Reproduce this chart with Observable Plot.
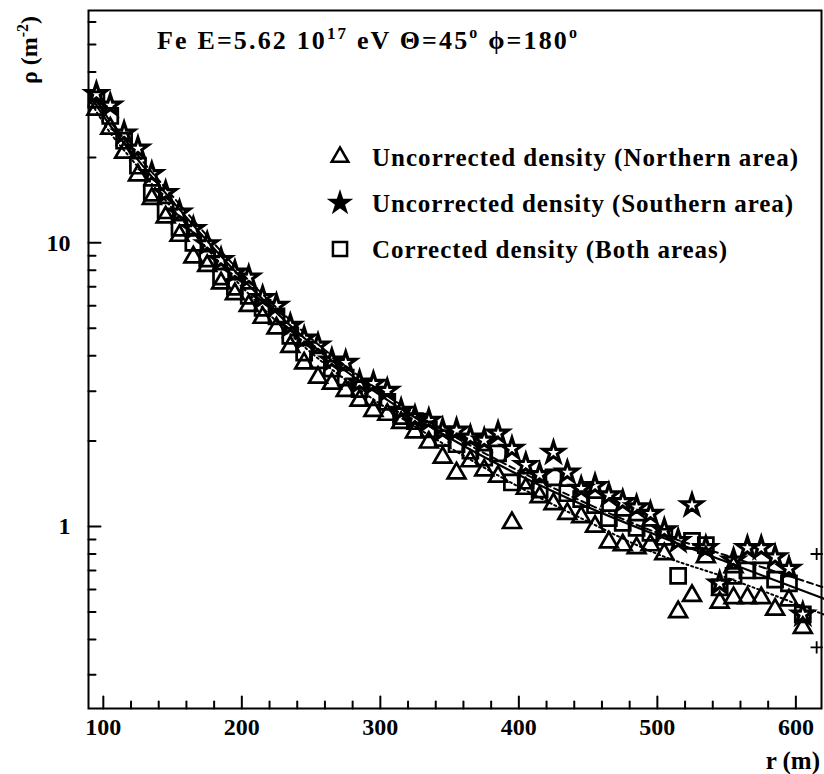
<!DOCTYPE html>
<html><head><meta charset="utf-8">
<script src="https://cdn.jsdelivr.net/npm/d3@7"></script>
<script src="https://cdn.jsdelivr.net/npm/@observablehq/plot@0.6"></script>
<style>html,body{margin:0;padding:0;background:#fff}</style>
</head><body><div id="chart"></div>
<script>
// ---- data ----
const titleMain = "Fe E=5.62 10";
const titleExp = "17";
const titleRest = " eV \u0398=45";
const titlePhi = " \u03D5=180";
const xLabel = "r (m)";
const yLabel = "\u03C1 (m";
const yLabelExp = "-2";
const legendLabels = ["Uncorrected density (Northern area)", "Uncorrected density (Southern area)", "Corrected density (Both areas)"];

const xDomain = [89.3, 618.5];
const yDomain = [0.2283, 65.9];
const xTickLabels = [100, 200, 300, 400, 500, 600];
const xMinorTicks = [120, 140, 160, 180, 220, 240, 260, 280, 320, 340, 360, 380, 420, 440, 460, 480, 520, 540, 560, 580];
const yTickLabels = [1, 10];
const yMinorTicks = [0.3, 0.4, 0.5, 0.6, 0.7, 0.8, 0.9, 2, 3, 4, 5, 6, 7, 8, 9, 20, 30, 40, 50, 60];

// Uncorrected density, Northern area (triangles)
const northR = [95,105,115,125,135,145,155,165,175,185,195,205,215,225,235,245,255,265,275,285,295,305,315,325,335,345,355,365,375,385,395,405,415,425,435,445,455,465,475,485,495,505,515,525,535,545,555,555,565,575,585,595,605];
const northRho = [29.5,25.3,20.8,17.3,14.3,12.3,10.6,8.9,8.3,7.2,6.6,6.0,5.45,5.0,4.3,3.76,3.35,3.19,3.01,2.78,2.56,2.48,2.32,2.15,1.98,1.75,1.54,1.70,1.58,1.50,1.03,1.36,1.27,1.20,1.11,1.08,1.00,0.88,0.86,0.84,0.86,0.80,0.50,0.57,0.78,0.54,0.72,0.56,0.56,0.56,0.51,0.55,0.44];

// Uncorrected density, Southern area (stars)
const southR = [95,105,115,125,135,145,155,165,175,185,195,205,215,225,235,245,255,265,275,285,295,305,315,325,335,345,355,365,375,385,395,405,415,425,435,445,455,465,475,485,495,505,515,525,535,545,555,565,575,585,595,605];
const southRho = [33.5,30.5,24.3,21.5,17.5,15.0,12.8,11.2,9.9,8.7,7.86,7.55,6.4,6.0,5.1,4.6,4.35,3.85,3.78,3.22,3.19,3.01,2.56,2.42,2.36,2.18,2.18,2.06,2.01,2.13,1.88,1.65,1.52,1.82,1.55,1.36,1.39,1.29,1.22,1.17,1.11,0.97,0.89,1.19,0.84,0.63,0.76,0.84,0.84,0.78,0.71,0.49];

// Corrected density, both areas (squares)
const bothR = [95,105,115,125,135,145,155,165,175,185,195,205,215,225,235,245,255,265,275,285,295,305,315,325,335,345,355,365,375,385,395,405,415,425,435,445,455,465,475,485,495,505,515,525,535,545,555,565,575,585,595,605];
const bothRho = [32,28,22.9,18.7,15.0,13.0,11.3,10.0,8.8,7.6,7.0,6.5,5.9,5.5,4.7,4.1,3.85,3.6,3.35,3.05,2.85,2.75,2.45,2.35,2.2,2.05,1.95,1.85,1.75,1.81,1.43,1.45,1.35,1.49,1.31,1.25,1.19,1.07,1.03,0.99,0.95,0.92,0.67,0.89,0.86,0.61,0.67,0.70,0.70,0.65,0.63,0.49];

// points at the right edge drawn as crosses
const edgeR = [615, 615];
const edgeRho = [0.80, 0.375];

// fitted lateral distribution functions
const fitR = [90,100,125,150,200,250,300,350,400,450,500,550,620];
const fitBoth = [33.5,28,19.6,14.0,7.5,4.4,2.9,2.05,1.52,1.17,0.93,0.75,0.557];
const fitSouth = [34.5,29,20.3,14.6,7.8,4.6,3.0,2.12,1.57,1.20,0.95,0.79,0.61];
const fitNorth = [32,26.5,18.5,13.2,7.0,4.1,2.7,1.9,1.38,1.04,0.80,0.66,0.49];

// ---- build ----
const FONT = "'Liberation Serif', 'Times New Roman', serif";
const rows = (R, V) => R.map((r, i) => ({r, v: V[i]}));
const north = rows(northR, northRho);
const south = rows(southR, southRho);
const both = rows(bothR, bothRho);
const edge = rows(edgeR, edgeRho);
const fitC = rows(fitR, fitBoth), fitS = rows(fitR, fitSouth), fitN = rows(fitR, fitNorth);

const tickShape = {draw(ctx, l) { ctx.moveTo(0, 0); ctx.lineTo(0, -l); }};
const mk = {fill: "none", stroke: "black", strokeWidth: 2.7};

const chart = Plot.plot({
  width: 824, height: 774,
  marginLeft: 88, marginRight: 3, marginTop: 10, marginBottom: 66,
  style: {fontFamily: FONT, fontSize: "24px", fontWeight: "bold", color: "black", background: "white", overflow: "visible"},
  x: {domain: xDomain},
  y: {type: "log", domain: yDomain},
  marks: [
    Plot.line(fitN, {x: "r", y: "v", stroke: "black", strokeWidth: 2, strokeDasharray: "2,3", curve: "monotone-x"}),
    Plot.line(fitS, {x: "r", y: "v", stroke: "black", strokeWidth: 2, strokeDasharray: "6,4", curve: "monotone-x"}),
    Plot.line(fitC, {x: "r", y: "v", stroke: "black", strokeWidth: 2.2, curve: "monotone-x"}),
    Plot.dot(both, {x: "r", y: "v", symbol: "square", r: 8.5, ...mk}),
    Plot.dot(south, {x: "r", y: "v", symbol: "star", r: 6.4, ...mk, strokeWidth: 3.2}),
    Plot.dot(north, {x: "r", y: "v", symbol: "triangle", r: 6.6, ...mk}),
    Plot.dot(edge, {x: "r", y: "v", symbol: "plus", r: 4, stroke: "black", strokeWidth: 1.8}),
    Plot.frame({stroke: "black", strokeWidth: 2}),
    Plot.vector(xTickLabels, {x: d => d, frameAnchor: "bottom", rotate: 0, length: 12, anchor: "start", shape: tickShape, stroke: "black", strokeWidth: 2}),
    Plot.vector(xMinorTicks, {x: d => d, frameAnchor: "bottom", rotate: 0, length: 7, anchor: "start", shape: tickShape, stroke: "black", strokeWidth: 2}),
    Plot.vector(yTickLabels, {y: d => d, frameAnchor: "left", rotate: 90, length: 12, anchor: "start", shape: tickShape, stroke: "black", strokeWidth: 2}),
    Plot.vector(yMinorTicks, {y: d => d, frameAnchor: "left", rotate: 90, length: 7, anchor: "start", shape: tickShape, stroke: "black", strokeWidth: 2}),
    Plot.axisX(xTickLabels, {tickSize: 0, tickPadding: 9, label: null, tickFormat: d => String(d)}),
    Plot.axisY(yTickLabels, {tickSize: 0, tickPadding: 18, label: null, tickFormat: d => String(d)})
  ]
});

const svg = d3.select(chart);
const txt = (sel) => sel.attr("font-family", FONT).attr("font-weight", "bold").attr("fill", "black");
// title
const t = txt(svg.append("text")).attr("x", 157).attr("y", 49).attr("text-anchor", "start").attr("font-size", 26);
t.append("tspan").text(titleMain);
t.append("tspan").attr("dy", -10).attr("font-size", 17).text(titleExp);
t.append("tspan").attr("dy", 10).text(titleRest);
t.append("tspan").attr("dy", -11).attr("font-size", 16).text("o");
t.append("tspan").attr("dy", 11).text(titlePhi);
t.append("tspan").attr("dy", -11).attr("font-size", 16).text("o");
t.attr("textLength", 420).attr("lengthAdjust", "spacing");

// y label
const yl = txt(svg.append("text")).attr("transform", "translate(37,50) rotate(-90)").attr("text-anchor", "middle").attr("font-size", 24);
yl.append("tspan").text(yLabel);
yl.append("tspan").attr("dy", -9).attr("font-size", 16).text(yLabelExp);
yl.append("tspan").attr("dy", 9).text(")");

// x label
txt(svg.append("text")).attr("x", 820).attr("y", 769).attr("text-anchor", "end").attr("font-size", 25).text(xLabel);

// legend
const legSyms = [d3.symbolTriangle, d3.symbolStar, d3.symbolSquare];
const legSizes = [120, 110, 200];
const legY = [157, 203, 249];
const legW = [426, 421, 355];
legendLabels.forEach((lab, i) => {
  svg.append("path").attr("transform", `translate(340,${legY[i]})`)
    .attr("d", d3.symbol(legSyms[i], legSizes[i])())
    .attr("fill", i === 1 ? "black" : "none").attr("stroke", "black").attr("stroke-width", 2.5);
  txt(svg.append("text")).attr("x", 372).attr("y", legY[i]).attr("dy", "0.35em").attr("text-anchor", "start")
    .attr("font-size", 25).attr("textLength", legW[i]).attr("lengthAdjust", "spacing").text(lab);
});

document.getElementById("chart").appendChild(chart);
</script>
</body></html>
